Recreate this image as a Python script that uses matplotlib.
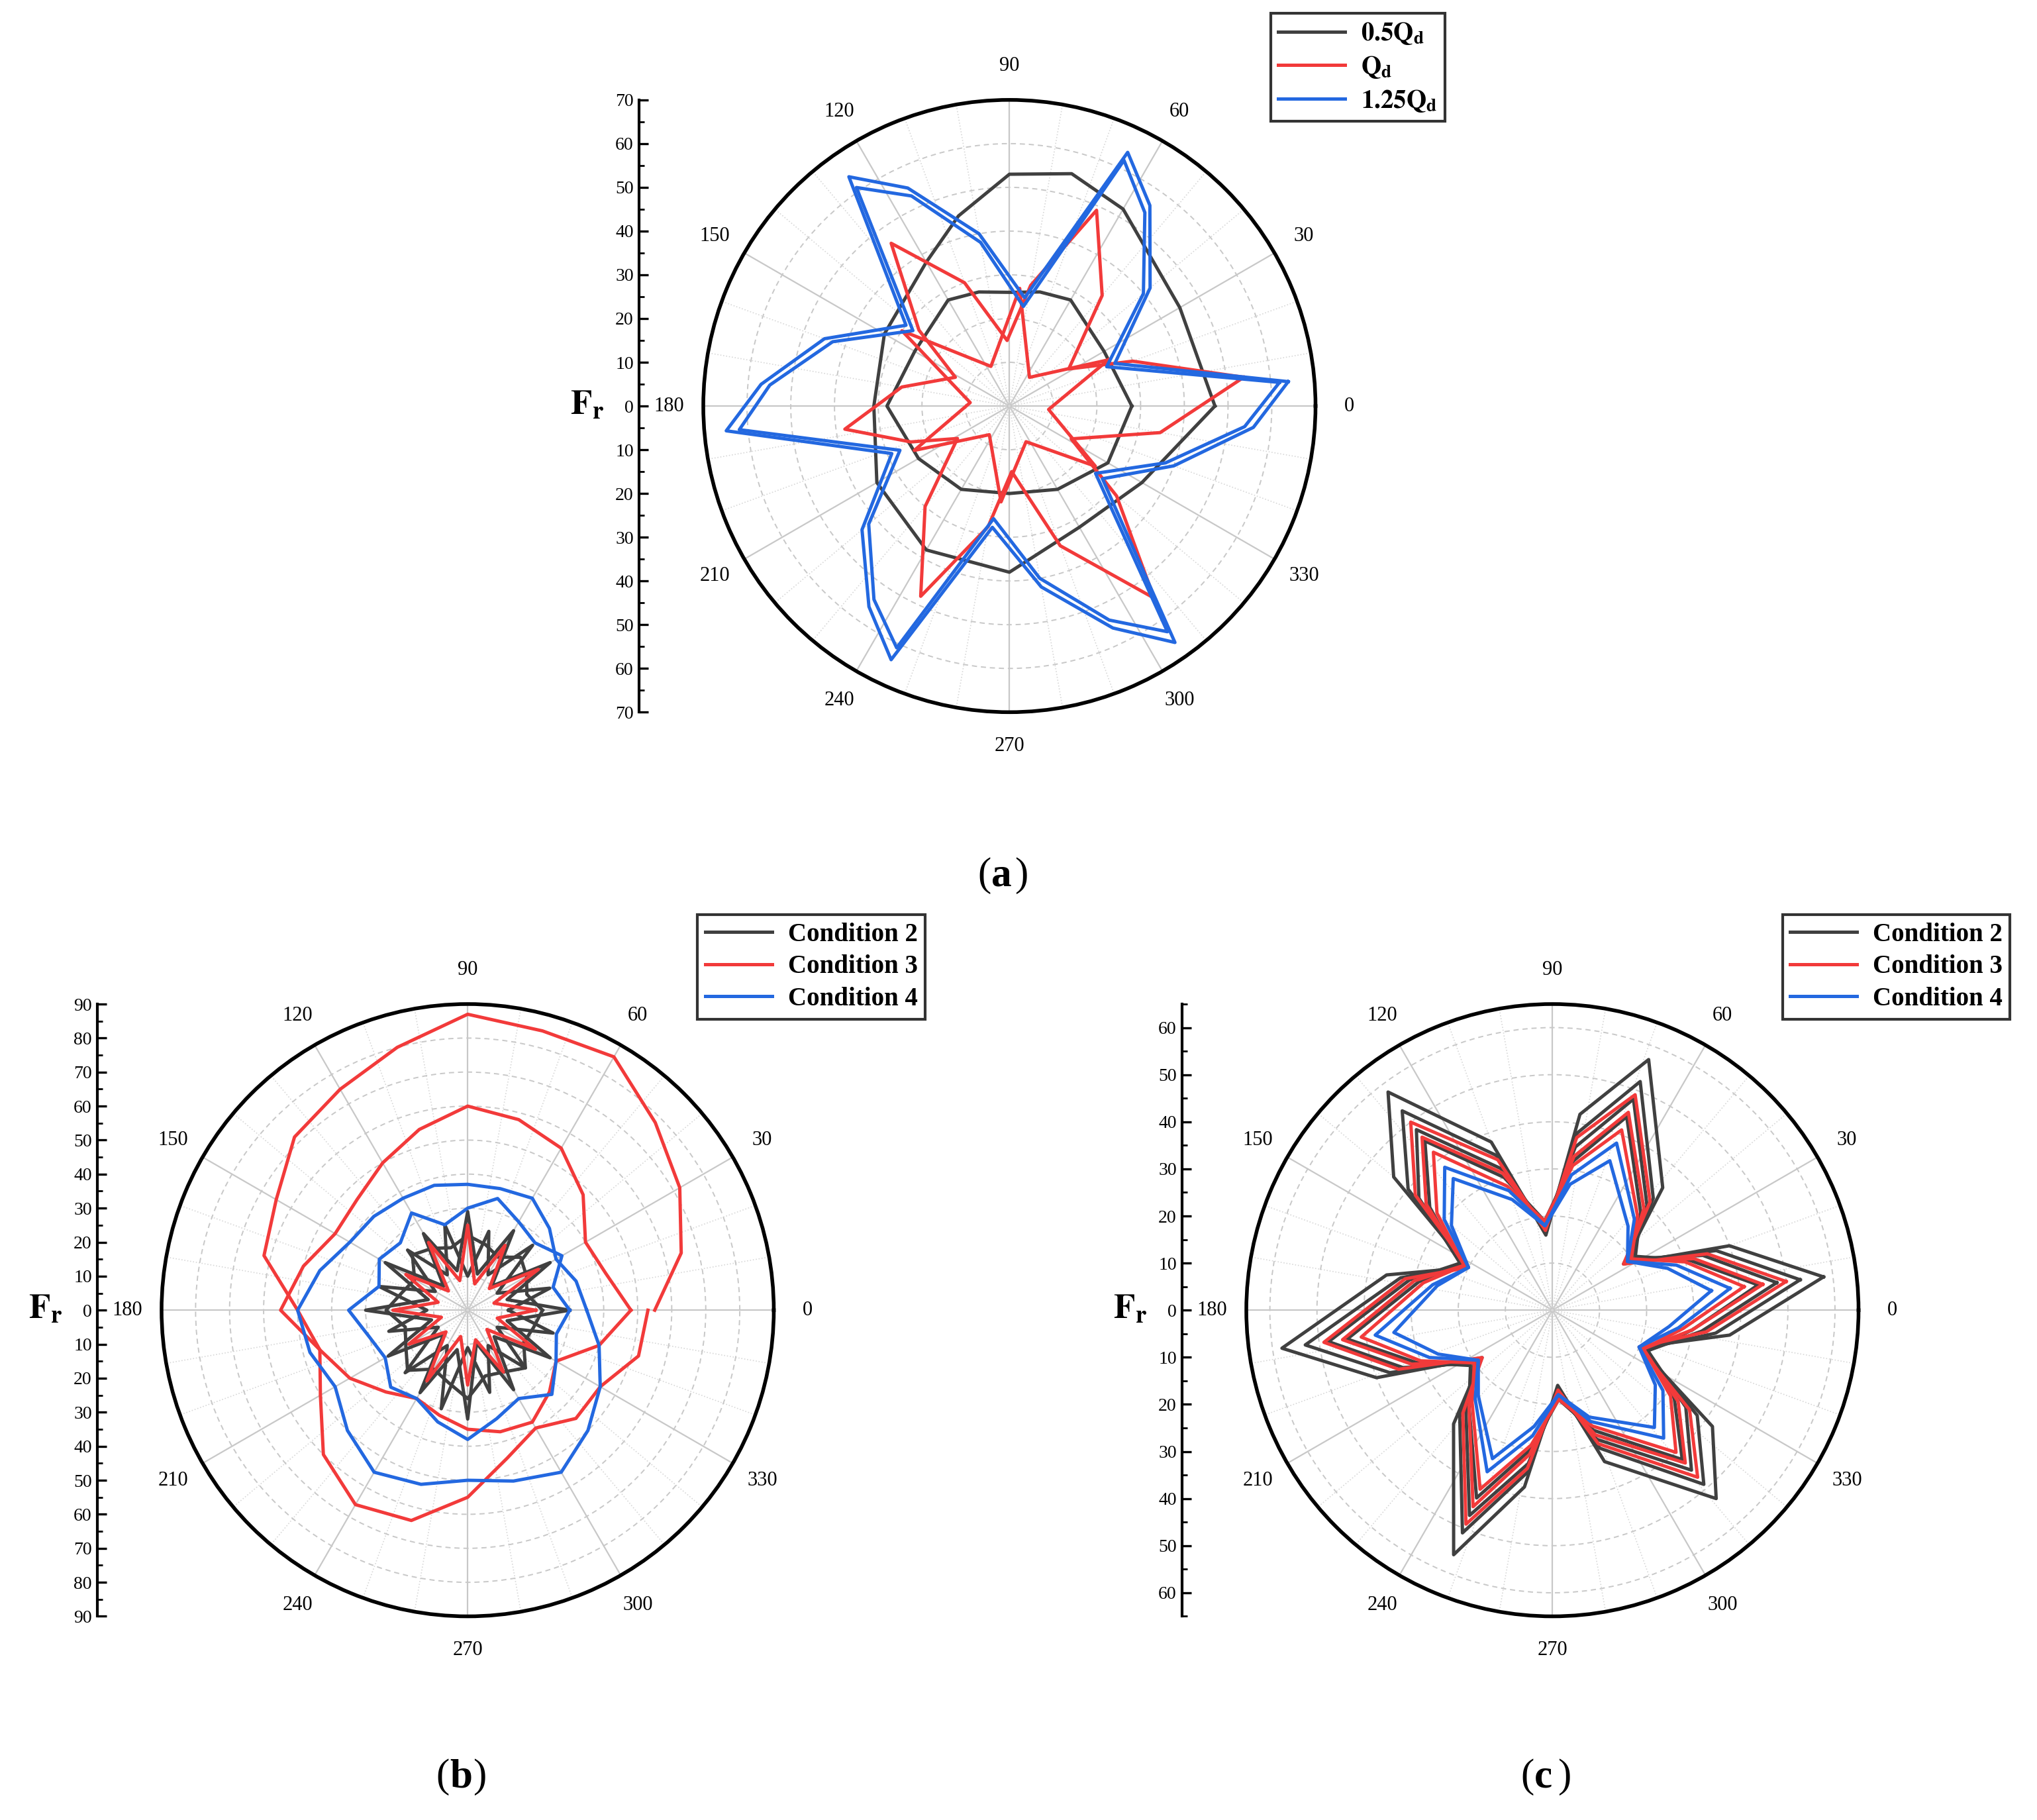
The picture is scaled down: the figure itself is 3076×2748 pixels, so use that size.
import numpy as np
import matplotlib
matplotlib.use("Agg")
import matplotlib.pyplot as plt
from matplotlib.lines import Line2D

plt.rcParams['font.family'] = ['Liberation Serif', 'DejaVu Serif']
plt.rcParams['mathtext.fontset'] = 'stix'

BLK, RED, BLU = '#404040', '#f23a3a', '#2368e0'

# ---------------- data (a) ----------------
ANG_A_BLUE = [5, 22, 40, 55, 65, 82, 100, 115, 125, 142, 160, 175, 185, 202, 220, 235, 245, 262, 280, 295, 305, 322, 340, 355, 365]
A_BLUE_1 = [64, 26, 42, 56, 64, 25, 40, 55, 64, 30, 45, 57, 65, 29, 44, 56, 64, 28, 42, 56, 66, 27, 40, 56, 64]
A_BLUE_2 = [62, 24, 40, 54, 62, 23, 38, 53, 61, 28, 43, 55, 62, 27, 42, 54, 61, 26, 40, 54, 63, 25, 38, 54, 62]
ANG_A_RED = [7, 20, 32, 50, 66, 80, 92, 110, 126, 140, 152, 170, 188, 200, 212, 230, 245, 260, 272, 290, 307, 320, 332, 350, 367]
A_RED_OUT = [54, 30, 16, 33, 49, 28, 15, 30, 46, 27, 14, 25, 38, 24, 14, 30, 48, 28, 15, 34, 55, 32, 16, 35, 54]
ANG_A_RED2 = [25, 55, 85, 115, 145, 175, 205, 235, 265, 295, 325, 355, 385]
A_RED_IN = [25, 8, 27, 10, 30, 9, 24, 8, 22, 9, 24, 9, 25]
ANG_A_BLK = [0, 30, 60, 75, 90, 105, 120, 150, 180, 210, 240, 270, 300, 330, 360]
A_BLK_OUT = [47, 45, 52, 55, 53, 45, 38, 33, 31, 35, 38, 38, 32, 35, 47]
A_BLK_IN = [28, 25, 28, 27, 26, 27, 28, 25, 28, 24, 22, 20, 22, 26, 28]

# ---------------- data (b) ----------------
ANG_B = [0, 15, 30, 45, 60, 75, 90, 105, 120, 135, 150, 165, 180, 195, 210, 225, 240, 255, 270, 285, 300, 315, 330, 345, 360]
B_RED_1 = [55, 65, 72, 78, 86, 85, 87, 80, 75, 72, 65, 62, 50, 45, 50, 60, 66, 64, 55, 45, 40, 45, 45, 52, 53]
B_RED_2 = [48, 42, 40, 48, 55, 58, 60, 55, 50, 46, 45, 50, 55, 45, 40, 34, 30, 32, 35, 37, 38, 34, 30, 40, 48]
B_BLU_1 = [35, 33, 30, 34, 38, 37, 37, 38, 38, 39, 40, 45, 50, 48, 45, 50, 55, 53, 50, 52, 55, 50, 45, 40, 35]
B_BLU_2 = [30, 26, 32, 28, 30, 34, 30, 26, 33, 28, 30, 27, 35, 30, 28, 32, 30, 34, 38, 33, 30, 35, 30, 27, 30]
B_BLK_1 = [30, 12, 28, 10, 27, 11, 29, 12, 26, 10, 28, 12, 30, 11, 27, 10, 28, 12, 32, 10, 27, 11, 28, 12, 30]
B_BLK_2 = [12, 25, 10, 27, 12, 24, 10, 26, 12, 25, 11, 27, 12, 24, 10, 26, 12, 30, 11, 25, 12, 24, 10, 26, 12]
B_BLK_3 = [22, 18, 20, 22, 18, 20, 22, 19, 21, 23, 18, 20, 24, 19, 21, 25, 20, 22, 26, 20, 21, 24, 19, 20, 22]
B_RED_3 = [20, 8, 24, 9, 22, 8, 25, 9, 23, 8, 21, 9, 22, 8, 20, 9, 24, 8, 22, 9, 21, 8, 23, 9, 20]

# ---------------- data (c) ----------------
ANG_C = [7, 20, 33, 48, 69, 82, 95, 110, 127, 140, 153, 168, 188, 201, 214, 229, 248, 261, 274, 289, 311, 324, 337, 352, 367]
C_BLK = [
    [58, 40, 18, 35, 57, 42, 16, 38, 58, 44, 20, 36, 58, 40, 18, 32, 56, 38, 16, 34, 53, 42, 20, 38, 58],
    [53, 37, 19, 32, 52, 38, 17, 35, 53, 40, 21, 33, 53, 37, 19, 30, 51, 35, 17, 31, 49, 38, 21, 35, 53],
    [48, 34, 20, 30, 48, 35, 18, 32, 48, 37, 22, 31, 48, 34, 20, 28, 47, 33, 18, 29, 45, 35, 22, 32, 48],
    [44, 31, 21, 28, 44, 32, 19, 30, 45, 34, 22, 29, 44, 31, 21, 27, 43, 30, 19, 27, 42, 32, 22, 30, 44],
]
C_RED = [
    [50, 35, 18, 31, 49, 37, 17, 34, 50, 38, 20, 32, 49, 35, 18, 29, 49, 34, 17, 30, 47, 36, 20, 33, 50],
    [45, 32, 19, 29, 45, 33, 18, 31, 46, 35, 21, 30, 45, 32, 19, 27, 45, 31, 18, 28, 43, 33, 21, 30, 45],
    [41, 30, 20, 27, 41, 31, 19, 28, 42, 32, 21, 28, 41, 30, 20, 26, 41, 29, 19, 26, 40, 31, 21, 28, 41],
]
C_BLU = [
    [38, 28, 19, 26, 38, 29, 18, 27, 38, 30, 20, 26, 38, 28, 19, 25, 37, 27, 18, 25, 36, 29, 20, 27, 38],
    [34, 26, 19, 24, 34, 27, 18, 25, 35, 28, 20, 25, 34, 26, 19, 24, 34, 25, 18, 24, 33, 27, 20, 25, 34],
]

W, H = 1568.0, 1403.0
fig = plt.figure(figsize=(15.38, 13.74), dpi=200)

def fx(x): return x / W
def fy(y): return 1 - y / H

def make_polar(cx, cy, R, rmax, axx, ticks):
    ax = fig.add_axes([fx(cx - R), fy(cy + R), 2 * R / W, 2 * R / H], projection='polar')
    ax.set_ylim(0, rmax)
    ax.set_yticks(np.arange(10, rmax + 0.1, 10))
    ax.set_yticklabels([])
    ax.set_xticks(np.radians(np.arange(0, 360, 30)))
    ax.set_xticklabels([str(a) for a in range(0, 360, 30)], fontsize=11)
    ax.set_xticks(np.radians(np.arange(0, 360, 10)), minor=True)
    ax.tick_params(axis='x', pad=8)
    ax.grid(True, which='major', axis='x', color='#c8c8c8', lw=0.8)
    ax.grid(True, which='minor', axis='x', color='#d8d8d8', lw=0.6, ls=':')
    ax.grid(True, which='major', axis='y', color='#c8c8c8', lw=0.7, ls=(0, (4, 3)))
    ax.spines['polar'].set_linewidth(2.0)
    # left radial scale
    la = fig.add_axes([fx(axx), fy(cy + R), 0.001, 2 * R / H])
    la.set_ylim(-rmax, rmax)
    la.set_yticks(ticks)
    la.set_yticklabels([str(abs(t)) for t in ticks], fontsize=10)
    la.set_yticks(np.arange(-rmax, rmax + 0.1, 5) if rmax % 5 == 0 else np.arange(-60, 61, 5), minor=True)
    la.tick_params(axis='y', direction='in', length=5, width=1.2, pad=3)
    la.tick_params(axis='y', which='minor', direction='in', length=3, width=1)
    la.set_xticks([])
    for s in ['top', 'right', 'bottom']:
        la.spines[s].set_visible(False)
    la.spines['left'].set_linewidth(1.5)
    fig.text(fx(axx - 40), fy(cy), r'$\mathbf{F_r}$', fontsize=19, ha='center', va='center')
    return ax

def plot(ax, ang, r, c):
    ax.plot(np.radians(ang), r, color=c, lw=1.8)

# (a)
axa = make_polar(777, 313, 236, 70, 492, list(range(-70, 71, 10)))
plot(axa, ANG_A_BLK, A_BLK_OUT, BLK)
plot(axa, ANG_A_BLK, A_BLK_IN, BLK)
plot(axa, ANG_A_RED, A_RED_OUT, RED)
plot(axa, ANG_A_RED2, A_RED_IN, RED)
plot(axa, ANG_A_BLUE, A_BLUE_1, BLU)
plot(axa, ANG_A_BLUE, A_BLUE_2, BLU)

# (b)
axb = make_polar(360, 1010, 236, 90, 75, list(range(-90, 91, 10)))
for r in [B_BLK_1, B_BLK_2, B_BLK_3]:
    plot(axb, ANG_B, r, BLK)
for r in [B_RED_1, B_RED_2, B_RED_3]:
    plot(axb, ANG_B, r, RED)
for r in [B_BLU_1, B_BLU_2]:
    plot(axb, ANG_B, r, BLU)

# (c)
axc = make_polar(1195, 1010, 236, 65, 910, list(range(-60, 61, 10)))
for r in C_BLK:
    plot(axc, ANG_C, r, BLK)
for r in C_RED:
    plot(axc, ANG_C, r, RED)
for r in C_BLU:
    plot(axc, ANG_C, r, BLU)

def legend(labels, x0, y0, x1, y1):
    hs = [Line2D([], [], color=c, lw=1.8) for c in (BLK, RED, BLU)]
    lg = fig.legend(hs, labels, loc='upper left', bbox_to_anchor=(fx(x0), fy(y0)),
                    frameon=True, fancybox=False, edgecolor='black', fontsize=14,
                    prop={'weight': 'bold', 'size': 14}, handlelength=2.6,
                    borderaxespad=0, labelspacing=0.3, borderpad=0.3, handletextpad=0.6)
    lg.get_frame().set_linewidth(1.5)

legend([r'$\mathbf{0.5Q_d}$', r'$\mathbf{Q_d}$', r'$\mathbf{1.25Q_d}$'], 978, 10, 1113, 118)
legend(['Condition 2', 'Condition 3', 'Condition 4'], 537, 705, 721, 797)
legend(['Condition 2', 'Condition 3', 'Condition 4'], 1372, 705, 1556, 797)

for t, x, y in [('a', 763, 675), ('b', 346, 1370), ('c', 1181, 1370)]:
    fig.text(fx(x), fy(y), '(', fontsize=22, ha='right', va='center')
    fig.text(fx(x), fy(y), t, fontsize=22, ha='left', va='center', weight='bold')
    fig.text(fx(x + 18), fy(y), ')', fontsize=22, ha='left', va='center')

fig.savefig('out.png', dpi=200)
